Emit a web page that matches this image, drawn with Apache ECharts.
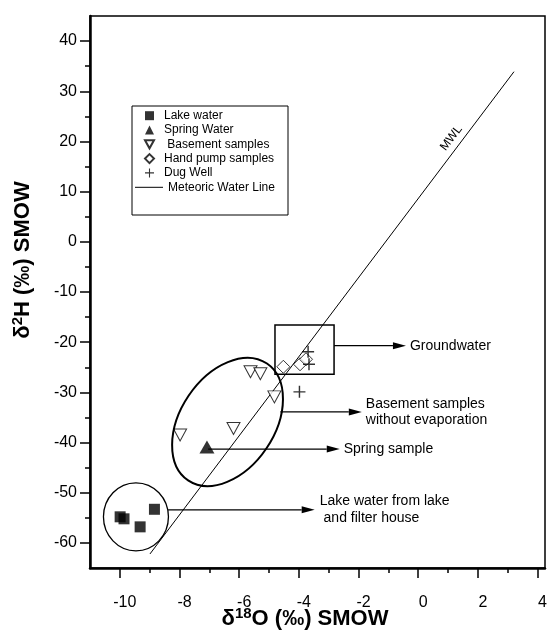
<!DOCTYPE html>
<html>
<head>
<meta charset="utf-8">
<script src="https://cdn.jsdelivr.net/npm/echarts@6/dist/echarts.min.js"></script>
<style>
  html, body { margin: 0; padding: 0; background: #fff; }
  #chart { width: 554px; height: 633px; }
</style>
</head>
<body>
<div id="chart"></div>
<script>
// Isotope samples: [δ18O, δ2H] in ‰ SMOW
const lakeWater = [[-9.99, -54.8], [-9.86, -55.2], [-9.32, -56.8], [-8.84, -53.3]];
const springWater = [[-7.08, -40.9]];
const basementSamples = [[-7.98, -38.5], [-6.19, -37.2], [-5.62, -25.9], [-5.29, -26.3], [-4.82, -30.9]];
const handPumpSamples = [[-4.52, -24.9], [-3.96, -24.4], [-3.76, -23.4]];
const dugWell = [[-3.69, -21.9], [-3.66, -24.4], [-3.98, -29.9]];
// Meteoric water line end points
const mwlLine = [[-8.99, -62.2], [3.21, 33.9]];

// Axis ticks
const xMajorTicks = [-10, -8, -6, -4, -2, 0, 2, 4];
const xMinorTicks = [-9, -7, -5, -3, -1, 1, 3];
const yMajorTicks = [-60, -50, -40, -30, -20, -10, 0, 10, 20, 30, 40];
const yMinorTicks = [-55, -45, -35, -25, -15, -5, 5, 15, 25, 35];

const X_MIN = -11, X_MAX = 4.25, Y_MIN = -65, Y_MAX = 45;
const FONT = '"Liberation Sans", Arial, Helvetica, sans-serif';

const chart = echarts.init(document.getElementById('chart'), null, { renderer: 'canvas' });

const plusPath = 'path://M4.4,0h1.2v4.4h4.4v1.2h-4.4v4.4h-1.2v-4.4h-4.4v-1.2h4.4z';
const downTrianglePath = 'path://M0,0L10,0L5,9Z';

function minorXAxis() {
  return {
    type: 'value', min: X_MIN, max: X_MAX, position: 'bottom',
    axisLine: { show: false, onZero: false }, axisLabel: { show: false }, splitLine: { show: false },
    axisTick: { show: true, customValues: xMinorTicks, length: 5, lineStyle: { color: '#000', width: 1.5 } }
  };
}
function minorYAxis() {
  return {
    type: 'value', min: Y_MIN, max: Y_MAX, position: 'left',
    axisLine: { show: false, onZero: false }, axisLabel: { show: false }, splitLine: { show: false },
    axisTick: { show: true, customValues: yMinorTicks, length: 5, lineStyle: { color: '#000', width: 1.5 } }
  };
}

const legendText = { fontSize: 12, fontFamily: FONT, color: '#000', lineHeight: 12 };

chart.setOption({
  animation: false,
  backgroundColor: '#fff',
  grid: {
    left: 90, right: 9, top: 16, bottom: 65,
    show: true, borderColor: '#000', borderWidth: 1.5, backgroundColor: 'transparent'
  },
  xAxis: [
    {
      type: 'value', min: X_MIN, max: X_MAX, position: 'bottom',
      splitLine: { show: false },
      axisLine: { show: true, onZero: false, lineStyle: { color: '#000', width: 2.5 } },
      axisTick: { show: true, customValues: xMajorTicks, length: 10, lineStyle: { color: '#000', width: 1.5 } },
      axisLabel: {
        customValues: xMajorTicks, margin: 27, color: '#000', fontSize: 16, fontFamily: FONT,
        padding: [0, 0, 0, 10]
      }
    },
    minorXAxis()
  ],
  yAxis: [
    {
      type: 'value', min: Y_MIN, max: Y_MAX, position: 'left',
      splitLine: { show: false },
      axisLine: { show: true, onZero: false, lineStyle: { color: '#000', width: 2.5 } },
      axisTick: { show: true, customValues: yMajorTicks, length: 10, lineStyle: { color: '#000', width: 1.5 } },
      axisLabel: { customValues: yMajorTicks, margin: 13, color: '#000', fontSize: 16, fontFamily: FONT }
    },
    minorYAxis()
  ],
  legend: [
    {
      orient: 'vertical', left: 144, top: 109.7, z: 10,
      itemWidth: 9, itemHeight: 9, itemGap: 2.3, padding: 0,
      textStyle: Object.assign({ padding: [0, 0, 0, 5] }, legendText),
      formatter: name => name === 'Basement samples' ? ' ' + name : name,
      data: [
        'Lake water',
        'Spring Water',
        { name: 'Basement samples', icon: downTrianglePath },
        'Hand pump samples',
        'Dug Well'
      ]
    },
    {
      orient: 'vertical', left: 135, top: 181.3, z: 10,
      itemWidth: 28, itemHeight: 1, padding: 0,
      textStyle: legendText,
      data: [{ name: 'Meteoric Water Line', icon: 'rect' }]
    }
  ],
  series: [
    {
      name: 'Meteoric Water Line', type: 'line', data: mwlLine,
      symbol: 'none', lineStyle: { color: '#000', width: 1 }, itemStyle: { color: '#000' }, z: 2
    },
    {
      name: 'Lake water', type: 'scatter', data: lakeWater,
      symbol: 'rect', symbolSize: 11, itemStyle: { color: '#000' }, z: 3
    },
    {
      name: 'Spring Water', type: 'scatter', data: springWater,
      symbol: 'triangle', symbolSize: [15, 13], itemStyle: { color: '#000' }, z: 3
    },
    {
      name: 'Basement samples', type: 'scatter', data: basementSamples,
      symbol: 'triangle', symbolRotate: 180, symbolSize: [13, 12],
      itemStyle: { color: '#fff', borderColor: '#000', borderWidth: 1 }, z: 3
    },
    {
      name: 'Hand pump samples', type: 'scatter', data: handPumpSamples,
      symbol: 'diamond', symbolSize: [13, 13],
      itemStyle: { color: '#fff', borderColor: '#000', borderWidth: 1 }, z: 3
    },
    {
      name: 'Dug Well', type: 'scatter', data: dugWell,
      symbol: plusPath, symbolSize: 12, itemStyle: { color: '#000' }, z: 4
    }
  ]
});

// Annotation shapes, anchored in data coordinates
function px(p) { return chart.convertToPixel({ gridIndex: 0 }, p); }

function arrow(from, to) {
  const a = px(from), b = px(to);
  const len = 13, half = 3.5;
  const dx = b[0] - a[0], dy = b[1] - a[1];
  const d = Math.hypot(dx, dy), ux = dx / d, uy = dy / d;
  const base = [b[0] - ux * len, b[1] - uy * len];
  return [
    { type: 'line', shape: { x1: a[0], y1: a[1], x2: base[0], y2: base[1] },
      style: { stroke: '#000', lineWidth: 1.2 }, z: 10 },
    { type: 'polygon', shape: { points: [b, [base[0] - uy * half, base[1] + ux * half], [base[0] + uy * half, base[1] - ux * half]] },
      style: { fill: '#000' }, z: 10 }
  ];
}

function label(at, text, dx) {
  const p = px(at);
  return {
    type: 'text', x: p[0] + (dx || 0), y: p[1], z: 10,
    style: { text: text, fill: '#000', font: '14px ' + FONT, align: 'left', verticalAlign: 'middle', lineHeight: 16.5 }
  };
}

const graphics = [];

// Legend frame
graphics.push({
  type: 'rect', shape: { x: 132, y: 106, width: 156, height: 109 },
  style: { fill: '#fff', stroke: '#000', lineWidth: 1 }, z: 3
});

// Groundwater box
const gwA = px([-4.80, -16.6]), gwB = px([-2.82, -26.4]);
graphics.push({
  type: 'rect', shape: { x: gwA[0], y: gwA[1], width: gwB[0] - gwA[0], height: gwB[1] - gwA[1] },
  style: { fill: 'none', stroke: '#000', lineWidth: 1.5 }, z: 10
});
graphics.push(...arrow([-2.82, -20.7], [-0.41, -20.7]));
graphics.push(label([-0.41, -20.7], 'Groundwater', 4));

// Basement samples ellipse
const bc = px([-6.39, -35.9]);
graphics.push({
  type: 'ellipse', x: bc[0], y: bc[1], rotation: 56 * Math.PI / 180,
  shape: { cx: 0, cy: 0, rx: 70.5, ry: 47 },
  style: { fill: 'none', stroke: '#000', lineWidth: 2 }, z: 10
});
graphics.push(...arrow([-4.62, -33.9], [-1.89, -33.9]));
graphics.push(label([-1.89, -33.9], 'Basement samples\nwithout evaporation', 4));

// Spring sample
graphics.push(...arrow([-7.04, -41.3], [-2.63, -41.3]));
graphics.push(label([-2.63, -41.3], 'Spring sample', 4));

// Lake water circle
const lc = px([-9.46, -54.8]);
graphics.push({
  type: 'ellipse', x: lc[0], y: lc[1],
  shape: { cx: 0, cy: 0, rx: 32.5, ry: 34 },
  style: { fill: 'none', stroke: '#000', lineWidth: 1.3 }, z: 10
});
graphics.push(...arrow([-8.38, -53.4], [-3.47, -53.4]));
graphics.push(label([-3.47, -53.4], 'Lake water from lake\n and filter house', 5));

// MWL tag along the line
const m0 = px(mwlLine[0]), m1 = px(mwlLine[1]);
const t = 0.85;
const mx = m0[0] + (m1[0] - m0[0]) * t, my = m0[1] + (m1[1] - m0[1]) * t;
const ang = Math.atan2(m0[1] - m1[1], m1[0] - m0[0]);
const nx = -Math.sin(ang), ny = -Math.cos(ang);
graphics.push({
  type: 'text', x: mx + nx * 10, y: my + ny * 10, rotation: ang, z: 10,
  style: { text: 'MWL', fill: '#000', font: '12px ' + FONT, align: 'center', verticalAlign: 'middle' }
});

// Axis titles
const titleRich = {
  d: { font: 'bold 22px ' + FONT, fill: '#000', lineHeight: 26 },
  s: { font: 'bold 15px ' + FONT, fill: '#000', verticalAlign: 'top', lineHeight: 26 }
};
graphics.push({
  type: 'text', x: 305, y: 619, z: 10,
  style: { text: '{d|δ}{s|18}{d|O (‰) SMOW}', align: 'center', verticalAlign: 'middle', rich: titleRich }
});
graphics.push({
  type: 'text', x: 23, y: 260, rotation: Math.PI / 2, z: 10,
  style: { text: '{d|δ}{s|2}{d|H (‰) SMOW}', align: 'center', verticalAlign: 'middle', rich: titleRich }
});

chart.setOption({ graphic: graphics });
</script>
</body>
</html>
